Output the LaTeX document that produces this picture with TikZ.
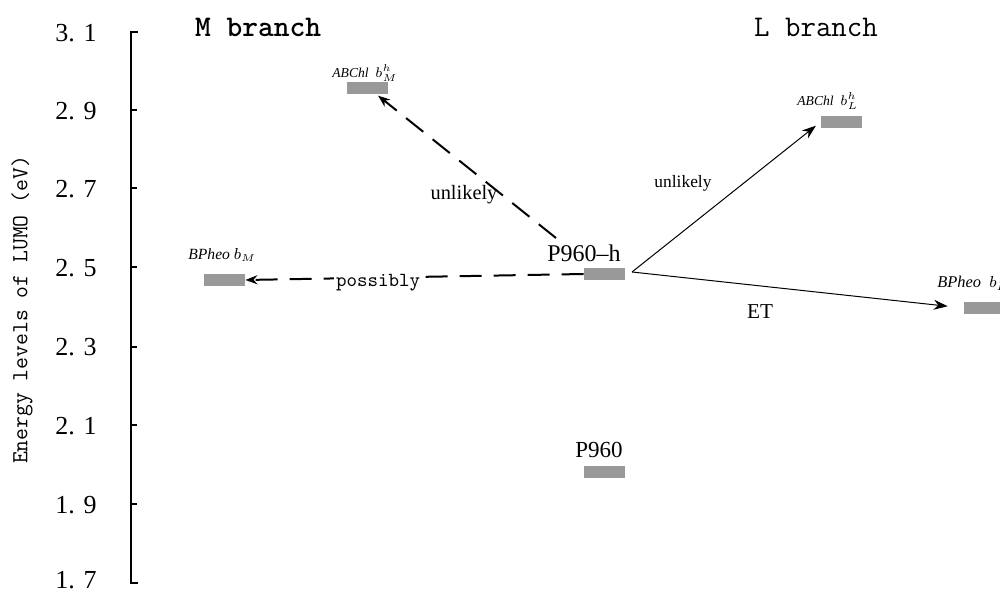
\documentclass[tikz,border=0pt]{standalone}
\usepackage{fontspec}
\setmainfont{Liberation Serif}
\usetikzlibrary{arrows.meta}
\definecolor{barcol}{RGB}{153,153,153}
\begin{document}
\begin{tikzpicture}[x=0.5pt,y=-0.5pt,
  level/.style={fill=barcol,draw=none,minimum width=20.5pt,minimum height=6pt,inner sep=0pt},
  axisline/.style={line width=0.8pt,black},
  dasharr/.style={line width=1pt,dash pattern=on 11pt off 6pt,-{Stealth[length=6pt,width=4.5pt]}},
  solarr/.style={line width=0.5pt,-{Stealth[length=7pt,width=5pt]}},
  ticklab/.style={anchor=east,inner sep=0pt,font=\fontsize{13}{14}\selectfont},
  mollab/.style={anchor=base west,inner sep=0pt,font=\itshape\fontsize{6.8}{7}\selectfont},
  arrlab/.style={inner sep=1pt}
]
\clip (0,0) rectangle (1000,592);
\fill[white] (0,0) rectangle (1000,592);

% axis
\draw[axisline] (138,32) -- (131,32) -- (131,583) -- (138,583);
\foreach \y in {110,188,267,347,425,504}
  \draw[axisline] (131,\y) -- (137,\y);
\foreach \v/\y/\n in {3. 1/33/a,2. 9/111/b,2. 7/189/c,2. 5/268/d,2. 3/347/e,2. 1/426/f,1. 9/505/g,1. 7/580/h}
  \node[ticklab] (t\n) at (97,\y) {\v};
\node[rotate=90,font=\ttfamily\fontsize{11.5}{12}\selectfont] (ylab) at (22,310) {Energy levels of LUMO (eV)};

% branch titles
\node[font=\ttfamily\bfseries\fontsize{15}{16}\selectfont] (mb) at (258,27) {M branch};
\node[font=\ttfamily\fontsize{15}{16}\selectfont] (lb) at (816,27) {L branch};

% levels
\node[level] (abm) at (367.5,88) {};
\node[level] (abl) at (841.5,122) {};
\node[level] (bm)  at (224.5,280) {};
\node[level] (ph)  at (604.5,274) {};
\node[level] (bl)  at (984.5,308) {};
\node[level] (p)   at (604.5,472) {};

% level labels
\node[mollab] (labm) at (332,78) {ABChl\ \ $b^{h}_{M}$};
\node[mollab] (labl) at (797,106) {ABChl\ \ $b^{h}_{L}$};
\node[mollab,font=\itshape\fontsize{7.8}{8}\selectfont] (lbm) at (188,260) {BPheo $b_{M}$};
\node[mollab,font=\itshape\fontsize{8.2}{9}\selectfont] (lbl) at (937,288) {BPheo\ \ $b_{L}$};
\node[font=\fontsize{12}{13}\selectfont] (lph) at (584,253) {P960–h};
\node[font=\fontsize{11.5}{12}\selectfont] (lp) at (599,450) {P960};

% connectors
\coordinate (pu) at (556,238);
\coordinate (pr) at (632,272);
\draw[dasharr] (ph.west) -- (bm.east);
\draw[dasharr,shorten >=1pt] (pu) -- ([xshift=4.5pt]abm.south);
\draw[solarr,shorten >=3pt] (pr) -- (abl.west);
\draw[solarr,shorten >=8pt] (pr) -- (bl.west);

% connector labels
\node[arrlab,fill=white,font=\ttfamily\fontsize{10}{11}\selectfont] (lposs) at (378,283) {possibly};
\node[arrlab,font=\fontsize{10.2}{11}\selectfont] (lu1) at (464,195) {unlikely};
\node[arrlab,font=\fontsize{8.7}{10}\selectfont] (lu2) at (683,183) {unlikely};
\node[arrlab,font=\fontsize{10.6}{12}\selectfont] (let) at (760,312) {ET};
\end{tikzpicture}
\end{document}
